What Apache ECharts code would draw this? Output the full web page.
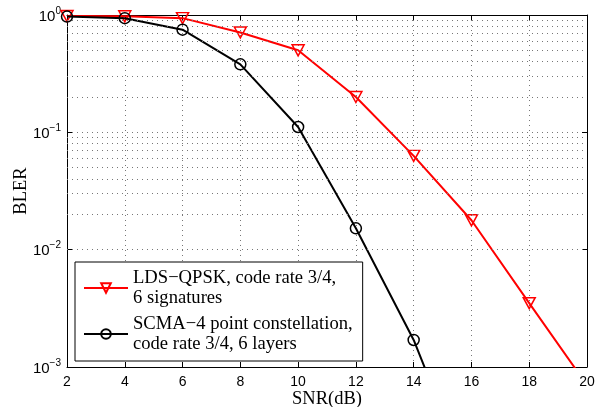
<!DOCTYPE html>
<html>
<head>
<meta charset="utf-8">
<script src="https://cdn.jsdelivr.net/npm/echarts@6/dist/echarts.min.js"></script>
<style>
  html, body { margin: 0; padding: 0; background: #fff; }
  #chart { width: 600px; height: 407px; }
</style>
</head>
<body>
<div id="chart"></div>
<script>
  // SNR 横轴
  var snr = [2, 4, 6, 8, 10, 12, 14, 16, 18, 20];
  // LDS-QPSK 曲线
  var ldsBler = [0.98, 0.975, 0.94, 0.71, 0.50, 0.20, 0.063, 0.0178, 0.0035, 0.0007];
  // SCMA 曲线
  var scmaBler = [0.97, 0.94, 0.75, 0.38, 0.111, 0.0152, 0.0017, 0.0001, null, null];
  // 次网格线
  var minorLines = [0.002, 0.003, 0.004, 0.005, 0.006, 0.007, 0.008, 0.009,
    0.02, 0.03, 0.04, 0.05, 0.06, 0.07, 0.08, 0.09,
    0.2, 0.3, 0.4, 0.5, 0.6, 0.7, 0.8, 0.9];

  var ldsName = 'LDS\u2212QPSK, code rate 3/4,\n6 signatures';
  var scmaName = 'SCMA\u22124 point constellation,\ncode rate 3/4, 6 layers';

  function pairs(ys) {
    var out = [];
    for (var i = 0; i < snr.length; i++) {
      if (ys[i] != null) out.push([snr[i], ys[i]]);
    }
    return out;
  }

  var dotted = { color: '#777', width: 1, type: [1, 4] };
  var myChart = echarts.init(document.getElementById('chart'));
  var option = {
    animation: false,
    grid: { left: 67, right: 13, top: 15, bottom: 40, containLabel: false, outerBoundsMode: 'none' },
    legend: {
      orient: 'vertical',
      left: 75,
      top: 262,
      backgroundColor: '#fff',
      borderColor: '#000',
      borderWidth: 1,
      borderRadius: 0,
      padding: [6, 10, 7, 8],
      itemGap: 6,
      itemWidth: 44,
      itemHeight: 12,
      textStyle: { fontFamily: 'Liberation Serif', fontSize: 18.6, lineHeight: 20, color: '#000' },
      data: [ldsName, scmaName]
    },
    xAxis: [{
      type: 'value', min: 2, max: 20, interval: 2,
      name: 'SNR(dB)', nameLocation: 'middle', nameGap: 23, nameMoveOverlap: false,
      nameTextStyle: { fontFamily: 'Liberation Serif', fontSize: 18.5, color: '#000' },
      axisLine: { lineStyle: { color: '#000', width: 1 } },
      axisTick: { inside: true, length: 5, lineStyle: { color: '#000' } },
      axisLabel: { fontFamily: 'Liberation Sans', fontSize: 14, color: '#000', margin: 8 },
      splitLine: { show: true, lineStyle: dotted }
    }, {
      type: 'value', min: 2, max: 20, interval: 2, position: 'top',
      axisLine: { lineStyle: { color: '#000', width: 1 } },
      axisTick: { inside: true, length: 5, lineStyle: { color: '#000' } },
      axisLabel: { show: false },
      splitLine: { show: false }
    }],
    yAxis: [{
      type: 'log', min: 0.001, max: 1, logBase: 10,
      name: 'BLER', nameLocation: 'middle', nameGap: 36, nameMoveOverlap: false,
      nameTextStyle: { fontFamily: 'Liberation Serif', fontSize: 18.5, color: '#000' },
      axisLine: { lineStyle: { color: '#000', width: 1 } },
      axisTick: { inside: true, length: 5, lineStyle: { color: '#000' } },
      axisLabel: {
        margin: 6,
        formatter: function (v) {
          var e = Math.round(Math.log(v) / Math.LN10);
          return '{a|10}{b|' + (e < 0 ? '\u2212' + (-e) : e) + '}';
        },
        rich: {
          a: { fontFamily: 'Liberation Sans', fontSize: 15, color: '#000', lineHeight: 18, verticalAlign: 'bottom' },
          b: { fontFamily: 'Liberation Sans', fontSize: 10, color: '#000', verticalAlign: 'top' }
        }
      },
      splitLine: { show: true, lineStyle: dotted }
    }, {
      type: 'log', min: 0.001, max: 1, logBase: 10, position: 'right',
      axisLine: { lineStyle: { color: '#000', width: 1 } },
      axisTick: { inside: true, length: 5, lineStyle: { color: '#000' } },
      axisLabel: { show: false },
      splitLine: { show: false }
    }],
    series: [{
      name: ldsName,
      type: 'line',
      data: pairs(ldsBler),
      symbol: 'path://M0,0 L10,0 L5,9 Z',
      symbolSize: [12, 11],
      showAllSymbol: true,
      clip: true,
      lineStyle: { color: '#ff0000', width: 2 },
      itemStyle: { color: 'rgba(255,255,255,0)', borderColor: '#ff0000', borderWidth: 1.5 },
      markLine: {
        silent: true,
        symbol: 'none',
        label: { show: false },
        lineStyle: dotted,
        data: minorLines.map(function (v) { return { yAxis: v }; })
      },
      z: 3
    }, {
      name: scmaName,
      type: 'line',
      data: pairs(scmaBler),
      symbol: 'circle',
      symbolSize: 11,
      showAllSymbol: true,
      clip: true,
      lineStyle: { color: '#000', width: 2 },
      itemStyle: { color: 'rgba(255,255,255,0)', borderColor: '#000', borderWidth: 1.5 },
      z: 4
    }]
  };
  myChart.setOption(option, true);
</script>
</body>
</html>
